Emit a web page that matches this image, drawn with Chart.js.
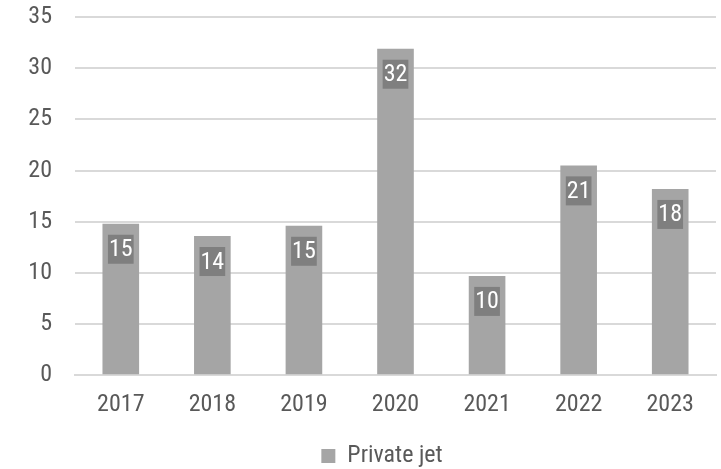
<!DOCTYPE html>
<html>
<head>
<meta charset="utf-8">
<title>Private jet</title>
<script src="https://cdn.jsdelivr.net/npm/chart.js@4/dist/chart.umd.min.js"></script>
<style>
  html, body { margin: 0; padding: 0; background: #fff; }
  #wrap { width: 721px; height: 469px; }
</style>
</head>
<body>
<div id="wrap"><canvas id="myChart" width="721" height="469"></canvas></div>
<script>
const years = ['2017', '2018', '2019', '2020', '2021', '2022', '2023'];
const privateJet = [14.8, 13.6, 14.6, 31.9, 9.7, 20.5, 18.2];
const yTicks = [0, 5, 10, 15, 20, 25, 30, 35];

const FONT = "'Roboto Condensed', 'Liberation Sans Narrow', 'Arial Narrow', 'DejaVu Sans Condensed', Roboto, sans-serif";
const TEXT = '#595959';

Chart.defaults.font.family = FONT;
Chart.defaults.color = TEXT;

// value boxes drawn just under the top of each bar
const valueBoxes = {
    id: 'valueBoxes',
    afterDatasetsDraw(chart) {
        const ctx = chart.ctx;
        const meta = chart.getDatasetMeta(0);
        ctx.save();
        ctx.font = '24px ' + FONT;
        ctx.textAlign = 'center';
        ctx.textBaseline = 'middle';
        meta.data.forEach((bar, i) => {
            const txt = String(Math.round(privateJet[i]));
            const w = ctx.measureText(txt).width + 2;
            const h = 29;
            const top = bar.y + 11;
            ctx.fillStyle = '#7f7f7f';
            ctx.fillRect(bar.x - w / 2, top, w, h);
            ctx.fillStyle = '#ffffff';
            ctx.fillText(txt, bar.x, top + h / 2 + 1);
        });
        ctx.restore();
    }
};

// legend sits a bit right of the canvas centre
const legendShift = {
    id: 'legendShift',
    afterLayout(chart) {
        chart.legend.left += 24;
        chart.legend.right += 24;
    }
};

const ctx = document.getElementById('myChart').getContext('2d');
const myChart = new Chart(ctx, {
    type: 'bar',
    data: {
        labels: years,
        datasets: [{
            label: 'Private jet',
            data: privateJet,
            backgroundColor: '#a5a5a5',
            borderWidth: 0,
            categoryPercentage: 1,
            barPercentage: 0.4
        }]
    },
    options: {
        responsive: false,
        animation: false,
        devicePixelRatio: 1,
        layout: { padding: { left: 0, right: 5, top: 17, bottom: -9 } },
        plugins: {
            tooltip: { enabled: false },
            legend: {
                position: 'bottom',
                labels: {
                    boxWidth: 14,
                    boxHeight: 14,
                    padding: 18,
                    color: TEXT,
                    font: { size: 24 }
                }
            }
        },
        scales: {
            x: {
                grid: { display: false },
                border: { color: '#d9d9d9', width: 2 },
                ticks: { color: TEXT, font: { size: 24 }, padding: 7 }
            },
            y: {
                min: 0,
                max: 35,
                afterBuildTicks(scale) {
                    scale.ticks = yTicks.map(v => ({ value: v }));
                },
                afterFit(scale) {
                    scale.width = 75;
                    scale.paddingTop = 0;
                    scale.paddingBottom = 0;
                },
                grid: { color: '#d9d9d9', lineWidth: 2, drawTicks: false },
                border: { display: false },
                ticks: { color: TEXT, font: { size: 24 }, padding: 23 }
            }
        }
    },
    plugins: [valueBoxes, legendShift]
});
</script>
</body>
</html>
